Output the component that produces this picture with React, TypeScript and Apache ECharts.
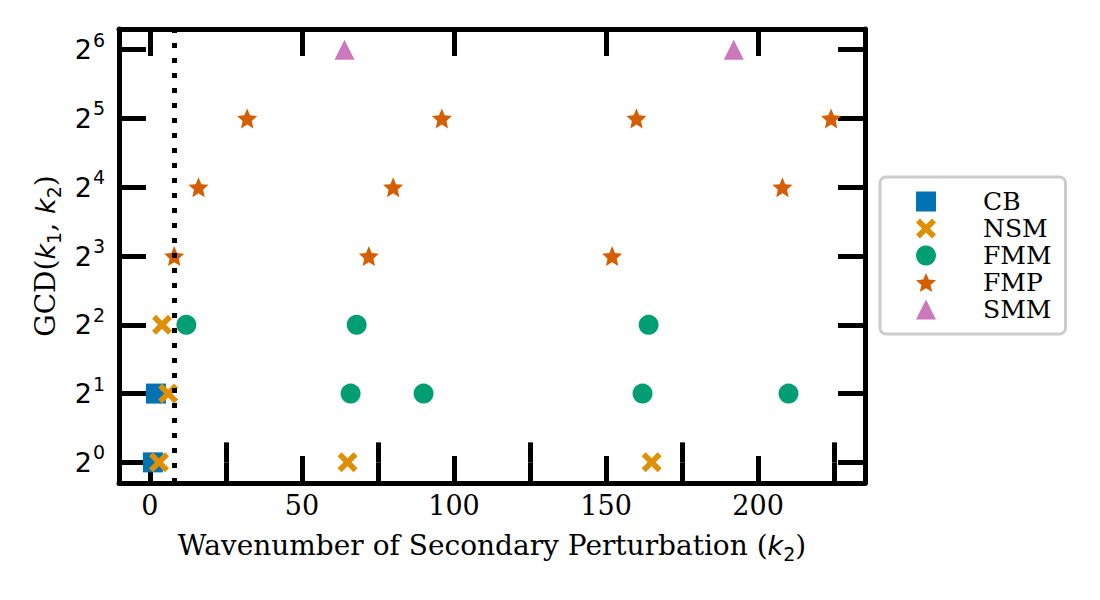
import React, { useEffect, useRef } from 'react';
import * as echarts from 'echarts';

const COLORS = {
  CB: '#0173b2',
  NSM: '#de8f05',
  FMM: '#029e73',
  FMP: '#d55e00',
  SMM: '#cc78bc',
  AXIS: '#000000',
  LEGEND_BORDER: '#cccccc',
};

const SERIF = 'DejaVu Serif';
const SANS = 'DejaVu Sans';

// k2 values and GCD(k1, k2) for each regime
const cbK2 = [1, 2];
const cbGcd = [1, 2];
const nsmK2 = [3, 6, 4, 65, 165];
const nsmGcd = [1, 2, 4, 1, 1];
const fmmK2 = [12, 68, 164, 66, 90, 162, 210];
const fmmGcd = [4, 4, 4, 2, 2, 2, 2];
const fmpK2 = [8, 72, 152, 16, 80, 208, 32, 96, 160, 224];
const fmpGcd = [8, 8, 8, 16, 16, 16, 32, 32, 32, 32];
const smmK2 = [64, 192];
const smmGcd = [64, 64];

const xMajorTicks = [0, 50, 100, 150, 200];
const xMinorTicks = [25, 75, 125, 175, 225];
const yExponents = [0, 1, 2, 3, 4, 5, 6];
const criticalK2 = 8;

const CROSS = 'path://M2,0 L5,3 L8,0 L10,2 L7,5 L10,8 L8,10 L5,7 L2,10 L0,8 L3,5 L0,2 Z';

const starPath = () => {
  const pts: string[] = [];
  for (let i = 0; i < 10; i++) {
    const r = i % 2 === 0 ? 10 : 4.6;
    const a = (-90 + i * 36) * (Math.PI / 180);
    pts.push(`${(10 + r * Math.cos(a)).toFixed(2)},${(10 + r * Math.sin(a)).toFixed(2)}`);
  }
  return 'path://M' + pts.join(' L') + ' Z';
};

const toPoints = (k2: number[], gcd: number[]) => k2.map((k, i) => [k, Math.log2(gcd[i])]);

const axisLine = { show: true, onZero: false, lineStyle: { color: COLORS.AXIS, width: 5 } };

const tickAxis = (position: string, values: number[], length: number, extra: any = {}) => ({
  type: 'value',
  position,
  min: -10.15,
  max: 235.15,
  axisLine: { show: false },
  splitLine: { show: false },
  axisTick: { show: true, inside: true, length, customValues: values, lineStyle: { color: COLORS.AXIS, width: 5 } },
  axisLabel: { show: false },
  ...extra,
});

const mathRich = {
  i: { fontFamily: SANS, fontStyle: 'italic', fontSize: 27, color: '#000' },
  sub: { fontFamily: SANS, fontSize: 19, color: '#000', verticalAlign: 'bottom', padding: [0, 0, -4, 0] },
};

const App: React.FC = () => {
  const divEL = useRef(null);

  const option: any = {
    animation: false,
    grid: { left: 119, right: 235, top: 29, bottom: 117 },
    legend: {
      orient: 'vertical',
      left: 880,
      top: 177,
      itemWidth: 20,
      itemHeight: 20,
      itemGap: 2,
      padding: [12, 14, 12, 36],
      borderColor: COLORS.LEGEND_BORDER,
      borderWidth: 3,
      borderRadius: 6,
      textStyle: { fontFamily: SERIF, fontSize: 25, color: '#000', lineHeight: 25, padding: [0, 0, 0, 42] },
      data: ['CB', 'NSM', 'FMM', 'FMP', 'SMM'],
    },
    xAxis: [
      tickAxis('bottom', xMajorTicks, 27, {
        axisLine,
        axisLabel: {
          show: true,
          customValues: xMajorTicks,
          fontFamily: SERIF,
          fontSize: 27,
          color: '#000',
          margin: 9,
        },
        name: 'Wavenumber of Secondary Perturbation ({i|k}{sub|2})',
        nameLocation: 'middle',
        nameGap: 48,
        nameTextStyle: { fontFamily: SERIF, fontSize: 28, color: '#000', rich: mathRich },
      }),
      tickAxis('bottom', xMinorTicks, 20),
      tickAxis('top', xMajorTicks, 27, { axisLine }),
      tickAxis('top', xMinorTicks, 20),
    ],
    yAxis: [
      {
        type: 'value',
        position: 'left',
        min: -0.3,
        max: 6.3,
        axisLine,
        splitLine: { show: false },
        axisTick: {
          show: true,
          inside: true,
          length: 27,
          customValues: yExponents,
          lineStyle: { color: COLORS.AXIS, width: 5 },
        },
        axisLabel: {
          show: true,
          customValues: yExponents,
          margin: 14,
          formatter: (v: number) => `{b|2}{s|${v}}`,
          rich: {
            b: { fontFamily: SANS, fontSize: 27, color: '#000' },
            s: { fontFamily: SANS, fontSize: 19, color: '#000', verticalAlign: 'top', padding: [-6, 0, 0, 1] },
          },
        },
        name: 'GCD({i|k}{sub|1}, {i|k}{sub|2})',
        nameLocation: 'middle',
        nameRotate: 90,
        nameGap: 56,
        nameTextStyle: { fontFamily: SERIF, fontSize: 28, color: '#000', rich: mathRich },
      },
      {
        type: 'value',
        position: 'right',
        min: -0.3,
        max: 6.3,
        axisLine,
        splitLine: { show: false },
        axisTick: {
          show: true,
          inside: true,
          length: 27,
          customValues: yExponents,
          lineStyle: { color: COLORS.AXIS, width: 5 },
        },
        axisLabel: { show: false },
      },
    ],
    series: [
      {
        name: 'CB',
        type: 'scatter',
        symbol: 'rect',
        symbolSize: 20,
        itemStyle: { color: COLORS.CB, opacity: 1 },
        data: toPoints(cbK2, cbGcd),
      },
      {
        name: 'NSM',
        type: 'scatter',
        symbol: CROSS,
        symbolSize: 20,
        itemStyle: { color: COLORS.NSM, opacity: 1 },
        data: toPoints(nsmK2, nsmGcd),
      },
      {
        name: 'FMM',
        type: 'scatter',
        symbol: 'circle',
        symbolSize: 20,
        itemStyle: { color: COLORS.FMM, opacity: 1 },
        data: toPoints(fmmK2, fmmGcd),
      },
      {
        name: 'FMP',
        type: 'scatter',
        symbol: starPath(),
        symbolSize: 20,
        itemStyle: { color: COLORS.FMP, opacity: 1 },
        data: toPoints(fmpK2, fmpGcd),
      },
      {
        name: 'SMM',
        type: 'scatter',
        symbol: 'triangle',
        symbolSize: 20,
        itemStyle: { color: COLORS.SMM, opacity: 1 },
        data: toPoints(smmK2, smmGcd),
        markLine: {
          silent: true,
          symbol: 'none',
          label: { show: false },
          lineStyle: { color: COLORS.AXIS, width: 5, type: [5, 10] },
          data: [{ xAxis: criticalK2 }],
          z: 10,
        },
      },
    ],
  };

  useEffect(() => {
    const instance = echarts.init(divEL.current as any, null, { renderer: 'svg' });
    instance.setOption(option);
    return () => {
      instance.dispose();
    };
  }, []);

  return (
    <div
      ref={divEL}
      style={{ position: 'absolute', left: 0, top: 0, width: 1100, height: 600, background: '#fff' }}
    ></div>
  );
};

export default App;
